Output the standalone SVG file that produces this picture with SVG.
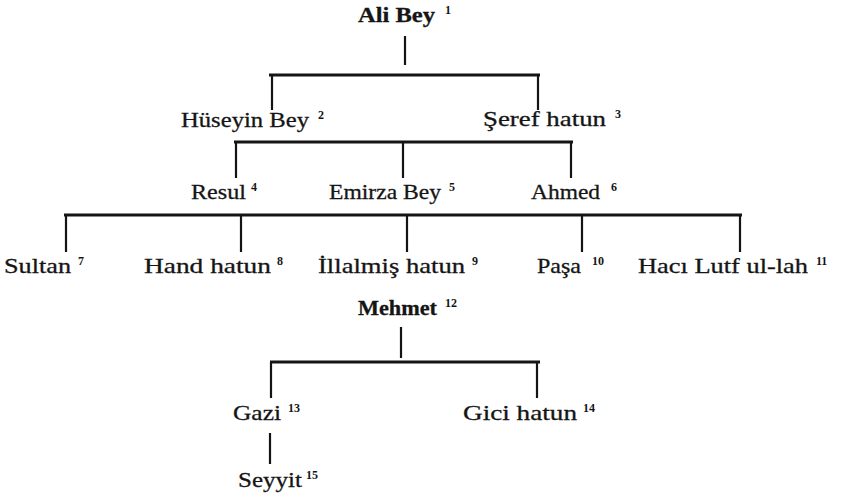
<svg xmlns="http://www.w3.org/2000/svg" width="843" height="497" viewBox="0 0 843 497">
<style>
.t{font-family:"Liberation Serif","Times New Roman",serif;font-size:22px;fill:#151515;stroke:#151515;stroke-width:0.3}
.b{font-weight:bold}
.s{font-family:"Liberation Serif","Times New Roman",serif;font-size:12px;font-weight:bold;fill:#151515}
.c line{stroke:#141414;stroke-width:2.2;stroke-linecap:butt}
.c line.h{stroke-width:3}
</style>
<rect width="843" height="497" fill="#ffffff"/>
<g class="c" id="connectors">
<line x1="405" y1="36" x2="405" y2="65"/>
<line class="h" x1="269" y1="75" x2="540" y2="75"/>
<line x1="272" y1="75" x2="272" y2="110"/>
<line x1="538" y1="75" x2="538" y2="110"/>
<line class="h" x1="234" y1="142" x2="573" y2="142"/>
<line x1="236" y1="142" x2="236" y2="178"/>
<line x1="403" y1="142" x2="403" y2="178"/>
<line x1="571" y1="142" x2="571" y2="178"/>
<line class="h" x1="64" y1="215" x2="742" y2="215"/>
<line x1="66" y1="215" x2="66" y2="252"/>
<line x1="241" y1="215" x2="241" y2="252"/>
<line x1="407" y1="215" x2="407" y2="252"/>
<line x1="582" y1="215" x2="582" y2="252"/>
<line x1="740" y1="215" x2="740" y2="252"/>
<line x1="401" y1="327" x2="401" y2="358"/>
<line class="h" x1="270" y1="362" x2="540" y2="362"/>
<line x1="271" y1="362" x2="271" y2="398"/>
<line x1="537" y1="362" x2="537" y2="398"/>
<line x1="270" y1="433" x2="270" y2="464"/>
</g>
<g id="n1"><text class="t b" x="358" y="22" textLength="77" lengthAdjust="spacingAndGlyphs">Ali Bey</text><text class="s" x="445" y="14">1</text></g>
<g id="n2"><text class="t" x="181" y="127" textLength="128" lengthAdjust="spacingAndGlyphs">Hüseyin Bey</text><text class="s" x="318" y="119">2</text></g>
<g id="n3"><text class="t" x="483" y="126" textLength="123" lengthAdjust="spacingAndGlyphs">Şeref hatun</text><text class="s" x="615" y="118">3</text></g>
<g id="n4"><text class="t" x="191" y="199" textLength="55" lengthAdjust="spacingAndGlyphs">Resul</text><text class="s" x="251" y="191">4</text></g>
<g id="n5"><text class="t" x="329" y="199" textLength="112" lengthAdjust="spacingAndGlyphs">Emirza Bey</text><text class="s" x="449" y="191">5</text></g>
<g id="n6"><text class="t" x="531" y="199" textLength="69" lengthAdjust="spacingAndGlyphs">Ahmed</text><text class="s" x="611" y="191">6</text></g>
<g id="n7"><text class="t" x="4" y="273" textLength="67" lengthAdjust="spacingAndGlyphs">Sultan</text><text class="s" x="78" y="265">7</text></g>
<g id="n8"><text class="t" x="144" y="273" textLength="127" lengthAdjust="spacingAndGlyphs">Hand hatun</text><text class="s" x="277" y="265">8</text></g>
<g id="n9"><text class="t" x="318" y="273" textLength="147" lengthAdjust="spacingAndGlyphs">İllalmiş hatun</text><text class="s" x="472" y="265">9</text></g>
<g id="n10"><text class="t" x="537" y="273" textLength="44" lengthAdjust="spacingAndGlyphs">Paşa</text><text class="s" x="592" y="265">10</text></g>
<g id="n11"><text class="t" x="638" y="273" textLength="170" lengthAdjust="spacingAndGlyphs">Hacı Lutf ul-lah</text><text class="s" x="816" y="265">11</text></g>
<g id="n12"><text class="t b" x="358" y="315" textLength="79" lengthAdjust="spacingAndGlyphs">Mehmet</text><text class="s" x="445" y="307">12</text></g>
<g id="n13"><text class="t" x="233" y="420" textLength="48" lengthAdjust="spacingAndGlyphs">Gazi</text><text class="s" x="288" y="412">13</text></g>
<g id="n14"><text class="t" x="463" y="420" textLength="114" lengthAdjust="spacingAndGlyphs">Gici hatun</text><text class="s" x="583" y="412">14</text></g>
<g id="n15"><text class="t" x="238" y="487" textLength="64" lengthAdjust="spacingAndGlyphs">Seyyit</text><text class="s" x="306" y="479">15</text></g>
</svg>
